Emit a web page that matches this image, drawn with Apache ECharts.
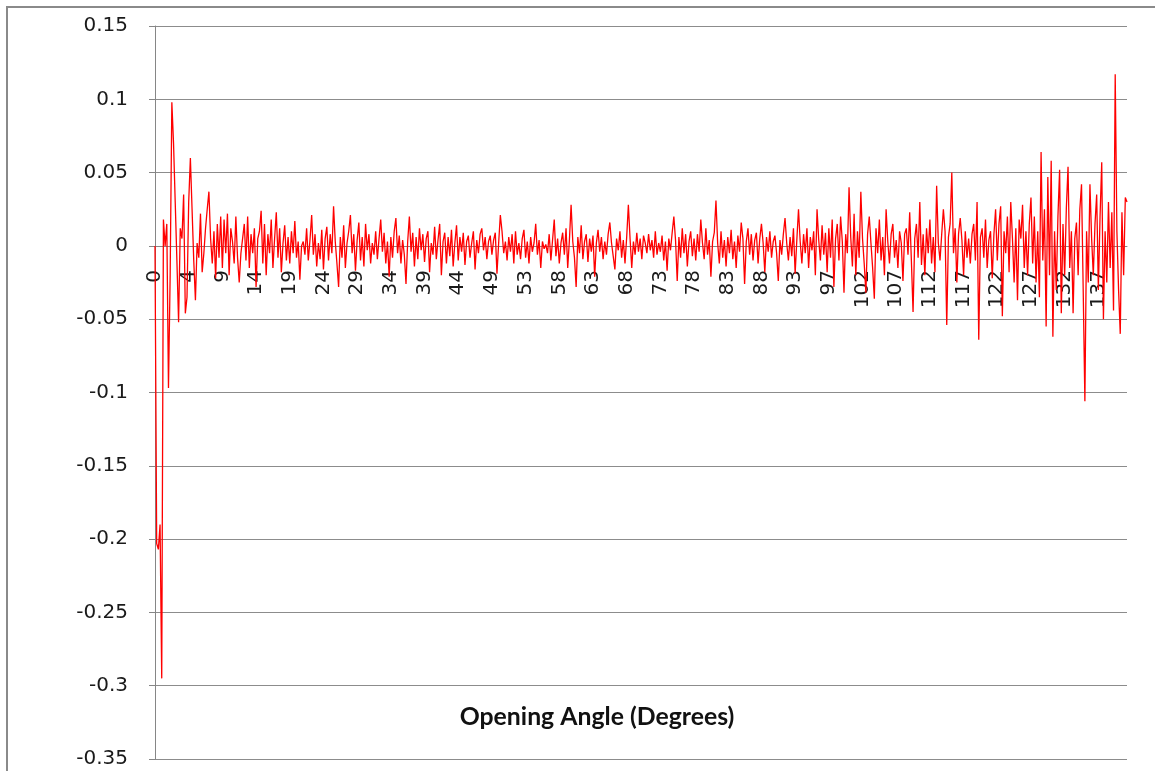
<!DOCTYPE html>
<html><head><meta charset="utf-8">
<script src="https://cdn.jsdelivr.net/npm/echarts@6/dist/echarts.min.js"></script>
<style>html,body{margin:0;padding:0;background:#fff}#c{width:1155px;height:771px}</style>
</head><body><div id="c"></div>
<script>
// x tick labels (every 20th category)
const tickLabels = ['0','4','9','14','19','24','29','34','39','44','49','53','58','63','68','73','78','83','88','93','97','102','107','112','117','122','127','132','137'];
const yTicks = [0.15,0.1,0.05,0,-0.05,-0.1,-0.15,-0.2,-0.25,-0.3,-0.35];
const xTitle = 'Opening Angle (Degrees)';
// series values, one row per label interval (20 points)
const values = [
 0,-.203,-.207,-.190,-.295,.018,0,.015,-.097,-.020,.098,.070,.030,-.010,-.052,.012,.005,.035,-.046,-.035,
 .030,.060,.025,-.010,-.037,.002,-.008,.022,-.018,-.005,.012,.025,.037,.005,-.012,.010,-.022,.015,-.008,.020,
 -.015,.018,-.005,.022,-.020,.012,.003,-.012,.020,-.008,-.025,-.005,.005,.015,-.010,.020,-.015,.008,-.005,.012,
 -.028,.005,.010,.024,-.012,.015,-.020,.008,-.005,.018,-.015,.005,.023,-.008,.012,-.018,.002,.014,-.010,.006,
 -.012,.010,-.005,.017,-.008,.003,-.023,0,.003,-.006,.012,-.010,.004,.021,-.006,.008,-.014,.002,-.009,.011,
 -.016,.005,.013,-.010,.008,-.005,.027,.003,-.012,-.028,.006,-.008,.014,-.015,.002,.010,.021,-.005,.008,-.017,
 .004,.016,-.010,.006,-.014,.015,-.003,.008,-.012,.002,-.006,.010,-.009,.005,.018,-.004,.009,-.012,.003,-.021,
 .006,-.008,.010,.019,-.005,.007,-.012,.004,-.006,-.026,.003,.020,-.004,.009,-.014,.006,-.009,.012,-.003,.008,
 -.011,.005,.010,-.018,.002,-.006,.013,-.009,.004,.015,-.020,.003,.009,-.012,.006,-.007,.011,-.014,.002,.014,
 -.010,.006,-.004,.009,-.013,.003,.007,-.008,.002,.010,-.016,.004,-.005,.008,.012,-.003,.006,-.009,.003,.007,
 -.006,.004,.009,-.019,.002,.021,.010,-.005,.003,-.010,.006,-.004,.008,-.012,.010,-.006,.002,-.009,.005,.011,
 -.008,.003,-.012,.006,-.004,.002,.015,-.006,.004,-.015,.003,-.002,.001,-.005,.008,-.010,.004,.018,-.007,.005,
 -.012,.002,.009,-.006,.012,-.015,.004,.028,.003,-.008,-.028,.006,-.005,.014,-.009,.003,.008,-.011,.005,-.004,
 .007,-.021,.002,.011,-.004,.006,-.009,.003,-.006,.008,.016,.002,-.007,-.016,.005,-.003,.010,-.008,.004,-.012,
 .006,.028,.005,-.015,.003,-.006,.009,-.004,.005,-.009,.007,.002,-.005,.008,-.003,.004,-.008,.010,-.006,.002,
 -.004,.007,-.010,.003,-.017,.005,-.003,.009,.020,.004,-.024,.006,-.008,.012,-.005,.008,-.014,.003,.010,-.007,
 .005,-.010,.008,-.004,.018,.002,-.009,.012,-.006,.004,-.021,.003,.009,.031,.002,-.012,.010,-.008,.004,-.014,
 .006,-.005,.011,-.009,.003,-.015,.007,-.004,.016,.005,-.026,.003,.012,-.006,.008,-.010,.004,.009,-.012,.005,
 .015,.002,-.018,.006,-.004,.010,-.008,.003,.007,-.005,-.024,.004,-.006,.008,.019,.002,-.010,.006,-.007,.012,
 -.019,.004,.025,.003,-.012,.008,-.005,.012,-.015,.006,-.003,.010,-.020,.025,.004,-.010,.014,-.006,.009,-.018,
 .012,-.008,.018,-.028,.005,.015,-.010,.020,.003,-.032,.008,-.005,.040,.006,-.014,.022,-.020,.010,-.008,.037,
 .005,-.012,-.032,.008,.020,.002,-.015,-.036,.012,-.005,.018,-.010,.006,-.020,.025,.003,-.012,.008,.015,-.008,
 .004,-.015,.010,.002,-.024,.008,.012,-.006,.023,-.010,-.045,.005,.015,-.008,.030,-.013,.008,-.020,.012,-.005,
 .018,-.012,.006,-.018,.041,.002,-.010,.008,.025,.010,-.054,.006,.015,.050,-.005,.012,-.025,.008,.019,.004,
 -.020,.010,-.008,.005,-.012,.008,.015,-.010,.030,-.064,.006,.012,-.008,.018,-.015,.004,.010,-.022,.008,.025,
 -.010,.015,.027,-.048,.010,-.005,.020,-.018,.030,.005,-.025,.012,-.037,.018,.005,.028,-.015,.010,-.020,.015,
 .033,-.012,.020,-.025,.010,-.035,.064,-.010,.025,-.055,.047,-.020,.058,-.062,.010,-.030,.020,.052,-.046,.015,
 -.020,.026,.054,-.015,.010,-.046,.005,.016,-.020,.025,.042,-.030,-.106,.010,-.025,.042,.005,-.020,.015,.035,
 -.030,.020,.057,-.050,.010,-.025,.030,-.015,.023,-.044,.117,.010,-.030,-.060,.023,-.020,.033,.030
];
const categories = values.map((v, i) => i);

const chart = echarts.init(document.getElementById('c'), null, {renderer: 'canvas'});
chart.setOption({
  animation: false,
  backgroundColor: '#ffffff',
  grid: {left: 155, right: 28, top: 26, bottom: 12, containLabel: false, outerBoundsMode: 'none'},
  xAxis: {
    type: 'category',
    data: categories,
    boundaryGap: false,
    position: 'bottom',
    offset: -513,
    axisLine: {onZero: false, lineStyle: {color: '#868686', width: 1}},
    axisTick: {show: false},
    splitLine: {show: false},
    axisLabel: {
      interval: 19,
      rotate: 90,
      margin: 24,
      fontFamily: 'DejaVu Sans',
      fontSize: 20,
      color: '#1a1a1a',
      formatter: (v, i) => tickLabels[Math.round(i / 20)] || ''
    }
  },
  yAxis: {
    type: 'value',
    min: yTicks[yTicks.length - 1],
    max: yTicks[0],
    interval: 0.05,
    axisLine: {show: true, onZero: false, lineStyle: {color: '#868686', width: 1}},
    axisTick: {show: true, length: 6, lineStyle: {color: '#868686'}},
    splitLine: {show: true, lineStyle: {color: '#8c8c8c', width: 1}},
    axisLabel: {
      margin: 27,
      fontFamily: 'DejaVu Sans',
      fontSize: 20,
      color: '#1a1a1a',
      formatter: v => String(Math.round(v * 100) / 100)
    }
  },
  graphic: [
    {type: 'rect', shape: {x: 7, y: 7, width: 1200, height: 820}, style: {fill: 'none', stroke: '#8a8a8a', lineWidth: 2}, silent: true},
    {type: 'text', x: 597, y: 717, style: {text: xTitle, font: 'bold 24.8px Lato', fill: '#111', textAlign: 'center', textVerticalAlign: 'middle'}}
  ],
  series: [{
    type: 'line',
    data: values,
    showSymbol: false,
    symbol: 'none',
    sampling: null,
    lineStyle: {color: '#ff0000', width: 1.3},
    z: 5
  }]
});
</script>
</body></html>
